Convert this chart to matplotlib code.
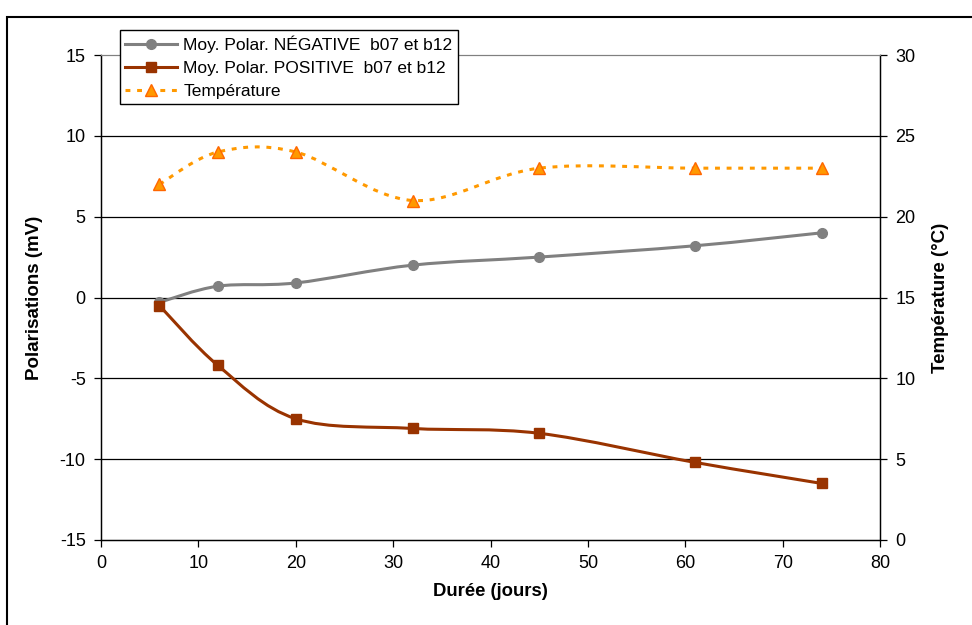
import numpy as np
import matplotlib
matplotlib.use("Agg")
import matplotlib.pyplot as plt
from matplotlib.path import Path
from matplotlib.patches import PathPatch
from matplotlib.lines import Line2D

plt.rcParams['font.family'] = ['Liberation Sans', 'DejaVu Sans']
plt.rcParams['axes.unicode_minus'] = False

# data
jours = [6, 12, 20, 32, 45, 61, 74]
pol_negative = [-0.3, 0.7, 0.9, 2.0, 2.5, 3.2, 4.0]
pol_positive = [-0.5, -4.2, -7.5, -8.1, -8.4, -10.2, -11.5]
temperature = [22, 24, 24, 21, 23, 23, 23]

lbl_neg = "Moy. Polar. NÉGATIVE  b07 et b12"
lbl_pos = "Moy. Polar. POSITIVE  b07 et b12"
lbl_temp = "Température"

c_neg = '#808080'
c_pos = '#993300'
c_temp = '#FF9900'
c_temp_mk = '#FF6600'


def smooth_path(x, y):
    # Excel-like smoothed line: Catmull-Rom segments as cubic beziers
    p = np.column_stack([x, y]).astype(float)
    verts = [p[0]]
    codes = [Path.MOVETO]
    n = len(p)
    for i in range(n - 1):
        p0 = p[i - 1] if i > 0 else p[i]
        p3 = p[i + 2] if i + 2 < n else p[i + 1]
        c1 = p[i] + (p[i + 1] - p0) / 6
        c2 = p[i + 1] - (p3 - p[i]) / 6
        verts += [c1, c2, p[i + 1]]
        codes += [Path.CURVE4] * 3
    return Path(verts, codes)


fig = plt.figure(figsize=(9.72, 6.25), dpi=100)
fig.patches.append(plt.Rectangle((0.0072, -0.01), 1.1, 1 - 0.0072 - 12 / 625 + 0.01,
                                 transform=fig.transFigure, fill=False,
                                 edgecolor='black', linewidth=1.5))
ax = fig.add_axes([101 / 972, 1 - 540 / 625, (880 - 101) / 972, (540 - 55) / 625])
ax2 = ax.twinx()

ax.set_xlim(0, 80)
ax.set_ylim(-15, 15)
ax2.set_ylim(0, 30)
ax.set_xticks(range(0, 81, 10))
ax.set_yticks(range(-15, 16, 5))
ax2.set_yticks(range(0, 31, 5))

for y in range(-10, 11, 5):
    ax.axhline(y, color='black', linewidth=0.9, zorder=1)

for a in (ax, ax2):
    a.spines['top'].set_color('#808080')
    a.spines['top'].set_linewidth(0.8)
    for s in ('left', 'right', 'bottom'):
        a.spines[s].set_linewidth(0.9)
    a.tick_params(direction='out', length=5, width=0.9, labelsize=13, pad=6)

ax.add_patch(PathPatch(smooth_path(jours, pol_negative), fill=False,
                       edgecolor=c_neg, linewidth=2.2, zorder=3))
ax.plot(jours, pol_negative, linestyle='none', marker='o', markersize=7,
        color=c_neg, zorder=4)
ax.add_patch(PathPatch(smooth_path(jours, pol_positive), fill=False,
                       edgecolor=c_pos, linewidth=2.2, zorder=3))
ax.plot(jours, pol_positive, linestyle='none', marker='s', markersize=7.5,
        color=c_pos, zorder=4)
ax2.add_patch(PathPatch(smooth_path(jours, temperature), fill=False,
                        edgecolor=c_temp, linewidth=2.2, linestyle=(0, (1.6, 2.2)),
                        zorder=3))
ax2.plot(jours, temperature, linestyle='none', marker='^', markersize=8.5,
         markeredgecolor=c_temp_mk, markerfacecolor=c_temp, markeredgewidth=1.0,
         zorder=4)

ax.set_xlabel("Durée (jours)", fontsize=13.3, fontweight='bold', labelpad=8)
ax.set_ylabel("Polarisations (mV)", fontsize=13.5, fontweight='bold', labelpad=12)
ax2.set_ylabel("Température (°C)", fontsize=13.5, fontweight='bold', labelpad=12)

handles = [
    Line2D([], [], color=c_neg, linewidth=2.2, marker='o', markersize=7),
    Line2D([], [], color=c_pos, linewidth=2.2, marker='s', markersize=7.5),
    Line2D([], [], color=c_temp, linewidth=2.2, linestyle=(0, (1.6, 2.2)),
           marker='^', markersize=8.5, markerfacecolor=c_temp,
           markeredgecolor=c_temp_mk),
]
leg = ax2.legend(handles, [lbl_neg, lbl_pos, lbl_temp], loc='upper left',
                 bbox_to_anchor=(120 / 972, 1 - 30 / 625), bbox_transform=fig.transFigure,
                 fontsize=12.5, frameon=True, fancybox=False, edgecolor='black',
                 framealpha=1, borderpad=0.3, labelspacing=0.45, handlelength=3.0,
                 handletextpad=0.35, borderaxespad=0)
leg.get_frame().set_linewidth(1.0)
leg.set_zorder(10)

fig.savefig("out.png", dpi=100)
